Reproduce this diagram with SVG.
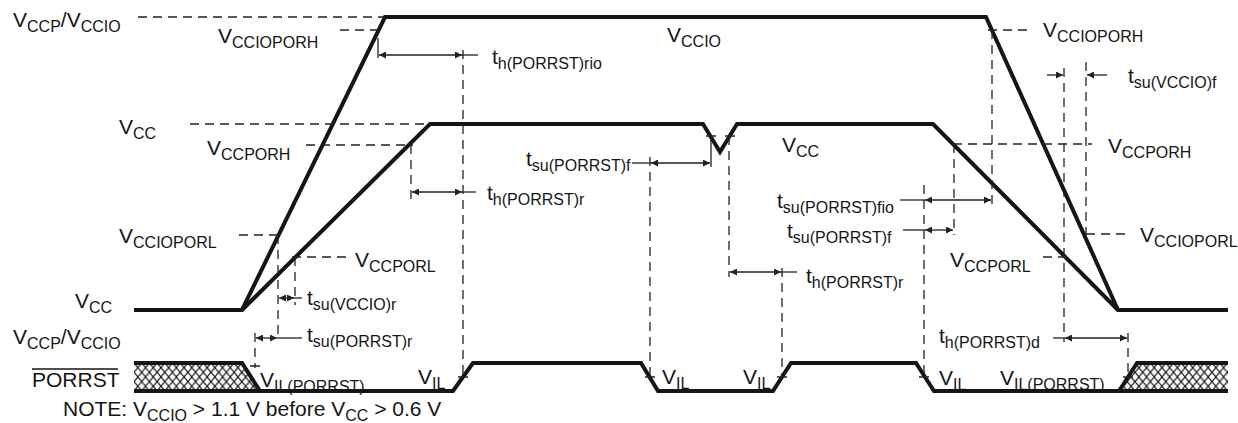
<svg xmlns="http://www.w3.org/2000/svg" width="1238" height="423" viewBox="0 0 1238 423">
<style>
.w{fill:none;stroke:#151515;stroke-width:4;stroke-linejoin:miter}
.d{fill:none;stroke:#222;stroke-width:1.3;stroke-dasharray:9 6}
.a{fill:none;stroke:#222;stroke-width:1.3}
.k{fill:none;stroke:#222;stroke-width:1.3}
text{font-family:"Liberation Sans",Arial,sans-serif;font-size:21px;fill:#151515}
.s{font-size:16px}
</style>
<defs>
<pattern id="hatch" patternUnits="userSpaceOnUse" x="134" y="363" width="7.7" height="9.3">
<path d="M0,0 L7.7,9.3 M7.7,0 L0,9.3" stroke="#151515" stroke-width="1.2"/>
</pattern>
<marker id="ah" viewBox="0 0 10 10" refX="10" refY="5" markerWidth="8" markerHeight="7" markerUnits="userSpaceOnUse" orient="auto-start-reverse">
<path d="M0,0 L10,5 L0,10 z" fill="#222"/>
</marker>
</defs>

<g id="waveforms">
<polygon points="134,363 242,363 260,391 134,391" fill="url(#hatch)"/>
<polygon points="1137,363 1228,363 1228,391 1119,391" fill="url(#hatch)"/>
<path class="w" d="M134,310 L242,310 L385,17 L986,17 L1118,310 L1228,310"/>
<path class="w" d="M242,310 L430,124 L703,124 L720,152 L737,124 L933,124 L1118,310"/>
<path class="w" d="M134,391 L453,391 L473,363 L641,363 L658,391 L773,391 L791,363 L916,363 L934,391 L1119,391 L1228,391"/>
<path class="w" d="M134,363 L242,363 L260,391"/>
<path class="w" d="M1119,391 L1137,363 L1228,363"/>
</g>

<g id="connectors">
<path class="d" d="M138,17 H383"/>
<path class="d" d="M340,30 H380"/>
<path class="k" d="M378,38 V58"/>
<path class="d" d="M463,50 V377"/>
<path class="d" d="M190,124 H430"/>
<path class="d" d="M306,145 H413"/>
<path class="d" d="M411,145 V200"/>
<path class="d" d="M239,235 H282"/>
<path class="d" d="M278,235 V340"/>
<path class="d" d="M292,257 H347"/>
<path class="d" d="M295,257 V305"/>
<path class="d" d="M255,333 V368"/>
<path class="d" d="M650,157 V377"/>
<path class="k" d="M711,140 V167 M706,136 H716 M725,136 H735"/>
<path class="d" d="M729,136 V277"/>
<path class="d" d="M782,268 V377"/>
<path class="d" d="M988,30 H1032"/>
<path class="d" d="M992,30 V205"/>
<path class="d" d="M1064,68 V342"/>
<path class="d" d="M1086,62 V235"/>
<path class="d" d="M953,144 H1092"/>
<path class="d" d="M954,144 V235"/>
<path class="d" d="M924,185 V377"/>
<path class="d" d="M1086,234 H1130"/>
<path class="d" d="M1043,257 H1066"/>
<path class="d" d="M1128,333 V377"/>
<path class="k" d="M458,377 H468 M645,377 H655 M777,377 H787 M919,377 H929 M1123,377 H1133 M250,366 H260"/>

<path class="a" d="M379,55 H462" marker-start="url(#ah)" marker-end="url(#ah)"/>
<path class="a" d="M462,55 H478"/>
<path class="a" d="M412,192 H462" marker-start="url(#ah)" marker-end="url(#ah)"/>
<path class="a" d="M462,192 H476"/>
<path class="a" d="M279,298 H294" marker-start="url(#ah)" marker-end="url(#ah)"/>
<path class="a" d="M294,298 H302"/>
<path class="a" d="M256,338 H277" marker-start="url(#ah)" marker-end="url(#ah)"/>
<path class="a" d="M277,338 H302"/>
<path class="a" d="M632,163 H651"/>
<path class="a" d="M651,163 H710" marker-start="url(#ah)" marker-end="url(#ah)"/>
<path class="a" d="M730,272 H781" marker-start="url(#ah)" marker-end="url(#ah)"/>
<path class="a" d="M781,272 H797"/>
<path class="a" d="M900,200 H925"/>
<path class="a" d="M925,200 H991" marker-start="url(#ah)" marker-end="url(#ah)"/>
<path class="a" d="M903,230 H925"/>
<path class="a" d="M925,230 H953" marker-start="url(#ah)" marker-end="url(#ah)"/>
<path class="a" d="M1047,75 H1063" marker-end="url(#ah)"/>
<path class="a" d="M1107,75 H1087" marker-end="url(#ah)"/>
<path class="a" d="M1053,338 H1065"/>
<path class="a" d="M1065,338 H1127" marker-start="url(#ah)" marker-end="url(#ah)"/>
</g>

<g id="labels">
<text x="13" y="27">V<tspan class="s" dy="5">CCP</tspan><tspan dy="-5">/V</tspan><tspan class="s" dy="5">CCIO</tspan></text>
<text x="218" y="43">V<tspan class="s" dy="5">CCIOPORH</tspan></text>
<text x="492" y="64">t<tspan class="s" dy="5">h(PORRST)rio</tspan></text>
<text x="667" y="42">V<tspan class="s" dy="5">CCIO</tspan></text>
<text x="119" y="134">V<tspan class="s" dy="5">CC</tspan></text>
<text x="207" y="155">V<tspan class="s" dy="5">CCPORH</tspan></text>
<text x="119" y="243">V<tspan class="s" dy="5">CCIOPORL</tspan></text>
<text x="355" y="267">V<tspan class="s" dy="5">CCPORL</tspan></text>
<text x="307" y="305">t<tspan class="s" dy="5">su(VCCIO)r</tspan></text>
<text x="75" y="308">V<tspan class="s" dy="5">CC</tspan></text>
<text x="13" y="344">V<tspan class="s" dy="5">CCP</tspan><tspan dy="-5">/V</tspan><tspan class="s" dy="5">CCIO</tspan></text>
<text x="307" y="342">t<tspan class="s" dy="5">su(PORRST)r</tspan></text>
<text x="32" y="387">PORRST</text>
<path d="M32,369 H118" stroke="#151515" stroke-width="1.3"/>
<text x="260" y="387">V<tspan class="s" dy="5">IL(PORRST)</tspan></text>
<text x="418" y="384">V<tspan class="s" dy="5">IL</tspan></text>
<text x="526" y="166">t<tspan class="s" dy="5">su(PORRST)f</tspan></text>
<text x="487" y="200">t<tspan class="s" dy="5">h(PORRST)r</tspan></text>
<text x="782" y="152">V<tspan class="s" dy="5">CC</tspan></text>
<text x="806" y="283">t<tspan class="s" dy="5">h(PORRST)r</tspan></text>
<text x="662" y="384">V<tspan class="s" dy="5">IL</tspan></text>
<text x="743" y="384">V<tspan class="s" dy="5">IL</tspan></text>
<text x="1043" y="37">V<tspan class="s" dy="5">CCIOPORH</tspan></text>
<text x="1128" y="83">t<tspan class="s" dy="5">su(VCCIO)f</tspan></text>
<text x="1108" y="153">V<tspan class="s" dy="5">CCPORH</tspan></text>
<text x="777" y="208">t<tspan class="s" dy="5">su(PORRST)fio</tspan></text>
<text x="787" y="238">t<tspan class="s" dy="5">su(PORRST)f</tspan></text>
<text x="1140" y="242">V<tspan class="s" dy="5">CCIOPORL</tspan></text>
<text x="950" y="267">V<tspan class="s" dy="5">CCPORL</tspan></text>
<text x="939" y="343">t<tspan class="s" dy="5">h(PORRST)d</tspan></text>
<text x="939" y="385">V<tspan class="s" dy="5">IL</tspan></text>
<text x="1000" y="385">V<tspan class="s" dy="5">IL(PORRST)</tspan></text>
<text x="63" y="416">NOTE: V<tspan class="s" dy="5">CCIO</tspan><tspan dy="-5"> &gt; 1.1 V before V</tspan><tspan class="s" dy="5">CC</tspan><tspan dy="-5"> &gt; 0.6 V</tspan></text>
</g>
</svg>
